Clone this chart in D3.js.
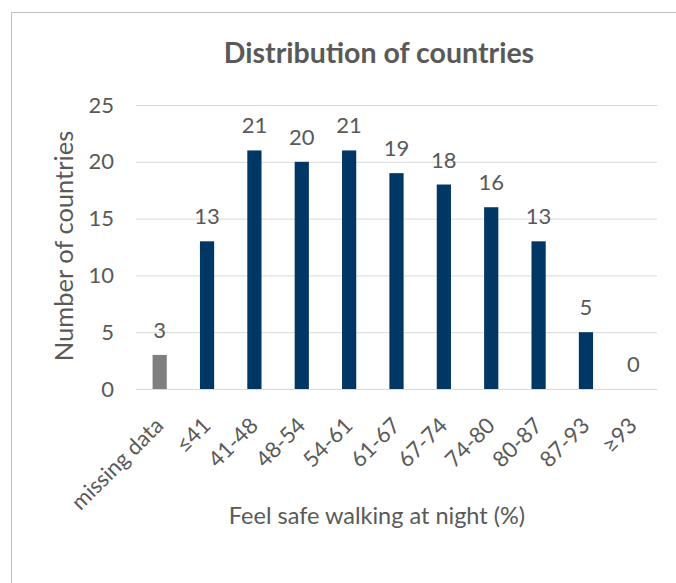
<!DOCTYPE html>
<html><head><meta charset="utf-8">
<script src="https://cdn.jsdelivr.net/npm/d3@7"></script>
<style>body{margin:0;background:#fff}svg{display:block}text{font-family:Lato,"Open Sans",sans-serif;fill:#595959}</style>
</head><body><svg id="c" width="676" height="583"></svg>
<script>
const categories=["missing data","≤41","41-48","48-54","54-61","61-67","67-74","74-80","80-87","87-93","≥93"];
const values=[3,13,21,20,21,19,18,16,13,5,0];
const yTicks=[0,5,10,15,20,25];
const barColors=["#7f7f7f","#003765","#003765","#003765","#003765","#003765","#003765","#003765","#003765","#003765","#003765"];
const title="Distribution of countries";
const xTitle="Feel safe walking at night (%)";
const yTitle="Number of countries";

const svg=d3.select("#c");
svg.append("rect").attr("x",11.5).attr("y",12.5).attr("width",700).attr("height",600).attr("fill","none").attr("stroke","#bfbfbf");
const x=d3.scaleBand().domain(categories).range([136,657]).paddingInner(0.7).paddingOuter(0.35);
const y=d3.scaleLinear().domain([0,25]).range([389,105]);

const ga=svg.append("g").attr("transform","translate(136,0)")
 .call(d3.axisLeft(y).tickValues(yTicks).tickSize(-521).tickPadding(22).tickFormat(d3.format("d")));
ga.select(".domain").remove();
ga.selectAll(".tick line").attr("stroke","#d9d9d9");
ga.selectAll(".tick text").attr("font-size",22).style("fill","#595959").attr("font-family","Lato");

svg.append("g").selectAll("rect").data(values).join("rect")
 .attr("x",(d,i)=>x(categories[i])).attr("width",x.bandwidth())
 .attr("y",d=>y(d)).attr("height",d=>y(0)-y(d)).attr("fill",(d,i)=>barColors[i]);

svg.append("g").selectAll("text").data(values).join("text")
 .attr("x",(d,i)=>x(categories[i])+x.bandwidth()/2).attr("y",d=>y(d)-17)
 .attr("text-anchor","middle").attr("font-size",22).text(d=>d);

const gx=svg.append("g").attr("transform","translate(0,389)")
 .call(d3.axisBottom(x).tickSize(0).tickPadding(0));
gx.select(".domain").remove();
gx.selectAll(".tick text").attr("font-size",22).style("fill","#595959").attr("font-family","Lato")
 .attr("text-anchor","end").attr("y",0).attr("dy",0)
 .attr("transform","translate(5,38) rotate(-45)");

svg.append("text").attr("x",377).attr("y",524).attr("text-anchor","middle").attr("font-size",23.5).text(xTitle);
svg.append("text").attr("transform","translate(73,246) rotate(-90)").attr("text-anchor","middle").attr("font-size",25.5).text(yTitle);
svg.append("text").attr("x",379).attr("y",63).attr("text-anchor","middle").attr("font-size",28.5).attr("font-weight","bold").text(title);
</script></body></html>
